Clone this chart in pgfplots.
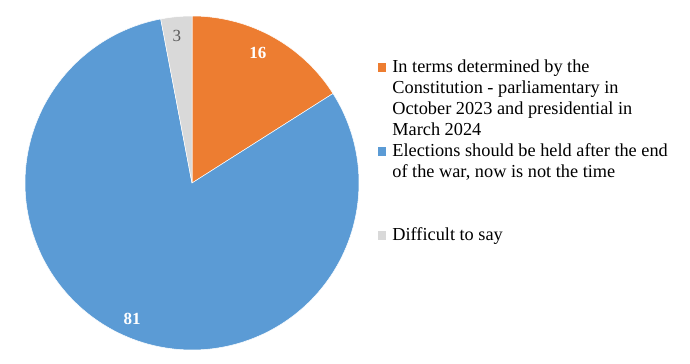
\documentclass[border=0pt]{standalone}
\usepackage{pgfplots}
\pgfplotsset{compat=1.18}
\usepackage{fontspec}
\setmainfont{Liberation Serif}
\definecolor{cOrange}{HTML}{ED7D31}
\definecolor{cBlue}{HTML}{5B9BD5}
\definecolor{cGray}{HTML}{D9D9D9}
\definecolor{cLabel}{HTML}{595959}
% shares (%)
\def\vA{16}\def\vB{81}\def\vC{3}
\pgfmathsetmacro\aA{90}
\pgfmathsetmacro\aB{90-3.6*\vA}
\pgfmathsetmacro\aC{\aB-3.6*\vB}
\pgfmathsetmacro\aD{\aC-3.6*\vC}
\pgfplotsset{
  sqO/.style={legend image code/.code={\fill[cOrange] (0bp,-2.5bp) rectangle (7bp,5.5bp);}},
  sqB/.style={legend image code/.code={\fill[cBlue] (0bp,-2.5bp) rectangle (7bp,5.5bp);}},
  sqG/.style={legend image code/.code={\fill[cGray] (0bp,-2.5bp) rectangle (7bp,5.5bp);}},
}
\begin{document}
\begin{tikzpicture}
\begin{axis}[
  at={(0,0)}, anchor=center,
  scale only axis, width=334bp, height=334bp,
  xmin=-1, xmax=1, ymin=-1, ymax=1,
  hide axis, clip=false,
  legend style={draw=none, fill=none, inner sep=0pt, outer sep=0pt,
    row sep=0pt, column sep=7bp,
    at={(1.0569,0.8743)}, anchor=north west,
    font=\fontsize{18.3bp}{21bp}\selectfont,
    nodes={text height=15bp, text depth=6bp, inner sep=0pt, anchor=west},
    cells={anchor=west}},
  legend cell align=left,
]
\addplot[forget plot, fill=cOrange, draw=white, line width=0.5bp, domain=\aB:\aA, samples=40, variable=\t]
  ({cos(t)},{sin(t)}) -- (axis cs:0,0) -- cycle;
\addplot[forget plot, fill=cBlue, draw=white, line width=0.5bp, domain=\aC:\aB, samples=160, variable=\t]
  ({cos(t)},{sin(t)}) -- (axis cs:0,0) -- cycle;
\addplot[forget plot, fill=cGray, draw=white, line width=0.5bp, domain=\aD:\aC, samples=10, variable=\t]
  ({cos(t)},{sin(t)}) -- (axis cs:0,0) -- cycle;

\addplot[forget plot, only marks, mark=none, point meta=explicit symbolic,
  nodes near coords, nodes near coords style={anchor=center, text=white,
  font=\fontsize{17bp}{19bp}\selectfont\bfseries}]
  table[meta=lab, row sep=\\] {x y lab\\ 0.395 0.778 16\\ -0.359 -0.814 81\\};
\addplot[forget plot, only marks, mark=none, point meta=explicit symbolic,
  nodes near coords, nodes near coords style={anchor=center, text=cLabel,
  font=\fontsize{17bp}{19bp}\selectfont}]
  table[meta=lab, row sep=\\] {x y lab\\ -0.09 0.88 3\\};

\addlegendimage{sqO}
\addlegendentry{In terms determined by the}
\addlegendimage{empty legend}
\addlegendentry{Constitution - parliamentary in}
\addlegendimage{empty legend}
\addlegendentry{October 2023 and presidential in}
\addlegendimage{empty legend}
\addlegendentry{March 2024}
\addlegendimage{sqB}
\addlegendentry{Elections should be held after the end}
\addlegendimage{empty legend}
\addlegendentry{of the war, now is not the time}
\addlegendimage{empty legend}
\addlegendentry{\mbox{}}
\addlegendimage{empty legend}
\addlegendentry{\mbox{}}
\addlegendimage{sqG}
\addlegendentry{Difficult to say}
\end{axis}
\path (-192bp,-181bp) rectangle (498bp,183bp);
\end{tikzpicture}
\end{document}
